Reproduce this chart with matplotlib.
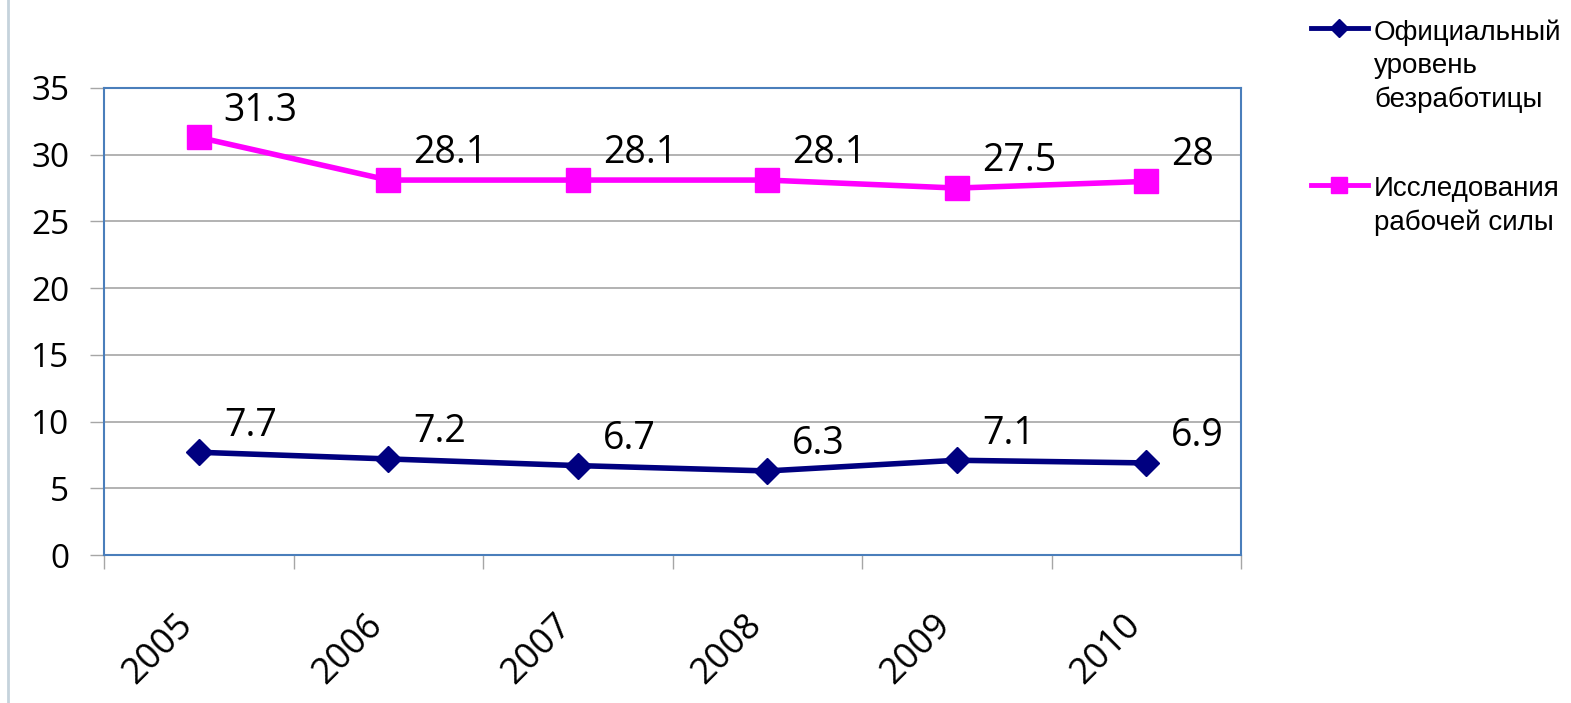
"""Unemployment rate: official figures vs. labour force survey, 2005-2010."""

import matplotlib

matplotlib.use("Agg")
import matplotlib.pyplot as plt
from matplotlib.lines import Line2D
from matplotlib.transforms import ScaledTranslation
import numpy as np

years = ["2005", "2006", "2007", "2008", "2009", "2010"]
official_rate = [7.7, 7.2, 6.7, 6.3, 7.1, 6.9]
survey_rate = [31.3, 28.1, 28.1, 28.1, 27.5, 28.0]
official_label = "Официальный\nуровень\nбезработицы"
survey_label = "Исследования\nрабочей силы"
y_ticks = [0, 5, 10, 15, 20, 25, 30, 35]

NAVY = "#000080"
MAGENTA = "#ff00ff"
FRAME = "#4a7ebb"
GRID = "#a6a6a6"
NUM_FONT = "Open Sans"

W, H = 1571, 703
fig = plt.figure(figsize=(W / 100, H / 100), dpi=100)
ax = fig.add_axes([104 / W, 1 - 555 / H, (1241 - 104) / W, (555 - 88) / H])

x = np.arange(len(years))
ax.plot(x, official_rate, color=NAVY, lw=4, marker="D", ms=13.5, zorder=3)
ax.plot(x, survey_rate, color=MAGENTA, lw=4, marker="s", ms=17, zorder=3)


def fmt(v):
    return f"{v:g}"


# value labels sit above and to the right of each point
for series in (official_rate, survey_rate):
    for xi, v in zip(x, series):
        ax.annotate(fmt(v), (xi, v), xytext=(18, 12), textcoords="offset points",
                    ha="left", va="baseline", fontsize=27, family=NUM_FONT,
                    color="black")

ax.set_xlim(-0.5, len(years) - 0.5)
ax.set_ylim(0, 35)
ax.set_yticks(y_ticks)
ax.set_yticklabels([str(t) for t in y_ticks], family=NUM_FONT, fontsize=24)
ax.tick_params(axis="y", length=10, width=1, color=GRID, pad=15)

ax.set_xticks(x)
ax.set_xticklabels(years, rotation=45, ha="right", va="center",
                   rotation_mode="anchor", family=NUM_FONT, fontsize=26)
ax.set_xticks(np.arange(-0.5, len(years)), minor=True)
ax.tick_params(axis="x", which="major", length=0, pad=47)
ax.tick_params(axis="x", which="minor", length=10, width=1, color=GRID)
shift = ScaledTranslation(-11 / 100, 0, fig.dpi_scale_trans)
for lbl in ax.get_xticklabels():
    lbl.set_transform(lbl.get_transform() + shift)

ax.grid(axis="y", color=GRID, lw=1.2)
ax.set_axisbelow(True)
for spine in ax.spines.values():
    spine.set_color(FRAME)
    spine.set_linewidth(1.5)

# thin border at the left edge of the slide
fig.add_artist(Line2D([8 / W, 8 / W], [0, 1], transform=fig.transFigure,
                      color="#c5d3dc", lw=2))

# legend drawn by hand to the right of the plot
legend_font = dict(family="Liberation Sans", fontsize=20, color="black",
                   linespacing=1.37, va="top", ha="left")
for label, color, marker, ms, y_line in [
    (official_label, NAVY, "D", 9, 28),
    (survey_label, MAGENTA, "s", 12, 185),
]:
    yf = 1 - y_line / H
    fig.add_artist(Line2D([1311 / W, 1368 / W], [yf, yf], transform=fig.transFigure,
                          color=color, lw=3.5))
    fig.add_artist(Line2D([1339 / W], [yf], transform=fig.transFigure,
                          color=color, marker=marker, ms=ms, lw=0))
    fig.text(1374 / W, 1 - (y_line - 9) / H, label, **legend_font)

fig.savefig("out.png", dpi=100)
